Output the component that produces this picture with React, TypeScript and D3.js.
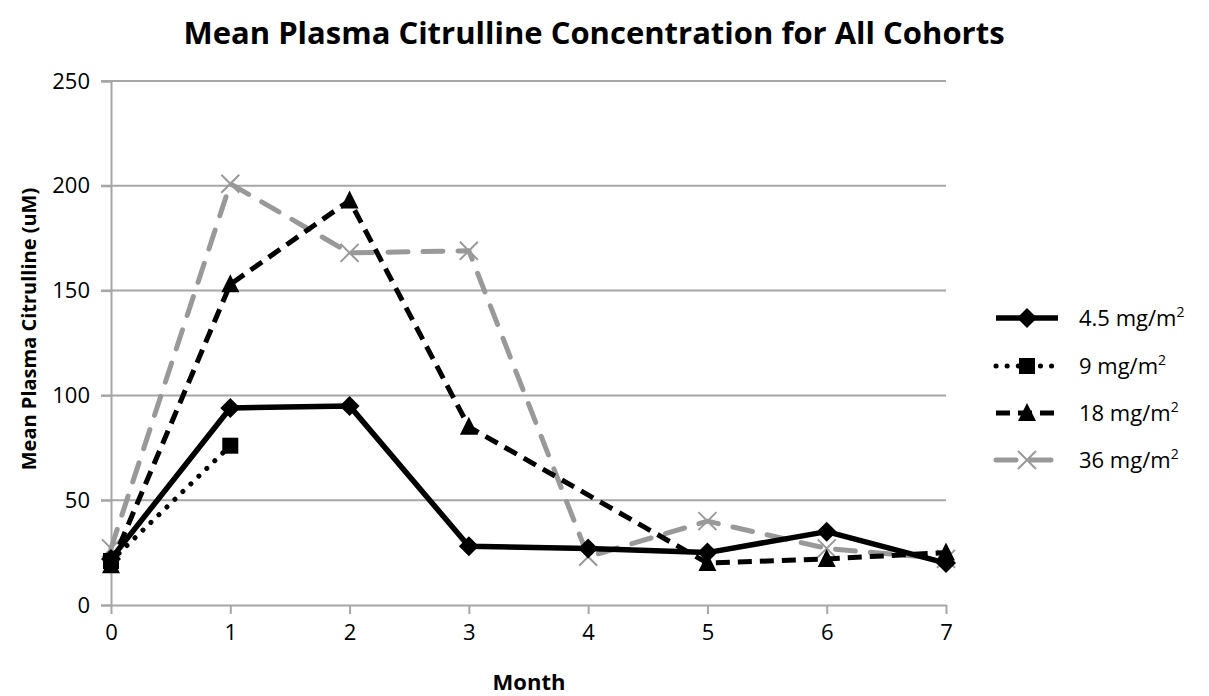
import React, { useEffect, useRef } from "react";
import * as d3 from "d3";

// months on x axis, values in uM; null = no measurement
const months = [0, 1, 2, 3, 4, 5, 6, 7];
const yTicks = [0, 50, 100, 150, 200, 250];
const cohort45 = [22, 94, 95, 28, 27, 25, 35, 20];
const cohort9 = [21, 76, null, null, null, null, null, null];
const cohort18 = [19, 153, 193, 85, null, 20, 22, 25];
const cohort36 = [27, 201, 168, 169, 23, 40, 27, 22];
const seriesNames = ["4.5 mg/m", "9 mg/m", "18 mg/m", "36 mg/m"];

const W = 1209, H = 696;
const font = "'Open Sans', sans-serif";

export default function App() {
  const ref = useRef<SVGSVGElement>(null);

  useEffect(() => {
    const svg = d3.select(ref.current);
    svg.selectAll("*").remove();

    const x = d3.scaleLinear().domain([0, 7]).range([111, 946]);
    const y = d3.scaleLinear().domain([0, 250]).range([605, 81]);
    const grid = "#a6a6a6";

    // title
    svg.append("text")
      .attr("x", 594).attr("y", 44)
      .attr("text-anchor", "middle")
      .style("font-family", font).style("font-weight", "bold").style("font-size", "31px")
      .text("Mean Plasma Citrulline Concentration for All Cohorts");

    // gridlines
    svg.append("g").selectAll("line")
      .data(yTicks.filter(t => t > 0))
      .enter().append("line")
      .attr("x1", 101).attr("x2", 946)
      .attr("y1", d => y(d)).attr("y2", d => y(d))
      .attr("stroke", grid).attr("stroke-width", 2);

    // y axis
    const yAxis = svg.append("g").attr("transform", "translate(111,0)")
      .call(d3.axisLeft(y).tickValues(yTicks).tickSize(10).tickPadding(11));
    yAxis.select(".domain").attr("stroke", grid).attr("stroke-width", 2);
    yAxis.selectAll(".tick line").attr("stroke", grid).attr("stroke-width", 2);
    yAxis.selectAll(".tick text").style("font-family", font).style("font-size", "22px").attr("fill", "#000");

    // x axis
    const xAxis = svg.append("g").attr("transform", "translate(0,605)")
      .call(d3.axisBottom(x).tickValues(months).tickFormat(d3.format("d")).tickSize(9).tickPadding(10).tickSizeOuter(0));
    xAxis.select(".domain").attr("stroke", grid).attr("stroke-width", 2);
    xAxis.selectAll(".tick line").attr("stroke", grid).attr("stroke-width", 2);
    xAxis.selectAll(".tick text").style("font-family", font).style("font-size", "22px").attr("fill", "#000");

    // axis titles
    svg.append("text")
      .attr("transform", "translate(36,329) rotate(-90)")
      .attr("text-anchor", "middle")
      .style("font-family", font).style("font-weight", "bold").style("font-size", "20px")
      .text("Mean Plasma Citrulline (uM)");
    svg.append("text")
      .attr("x", 529).attr("y", 690)
      .attr("text-anchor", "middle")
      .style("font-family", font).style("font-weight", "bold").style("font-size", "22px")
      .text("Month");

    const series = [
      { vals: cohort45, color: "#000", dash: null, cap: "butt", width: 5.5, marker: "diamond" },
      { vals: cohort9, color: "#000", dash: "0.1 11", cap: "round", width: 5, marker: "square" },
      { vals: cohort18, color: "#000", dash: "14 8", cap: "butt", width: 5, marker: "triangle" },
      { vals: cohort36, color: "#999", dash: "20 15", cap: "round", width: 5, marker: "x" },
    ];

    const line = d3.line<[number, number]>().x(d => x(d[0])).y(d => y(d[1]));

    const drawMarker = (g: any, kind: string, cx: number, cy: number, color: string) => {
      if (kind === "diamond") {
        g.append("path").attr("d", `M${cx},${cy - 10}L${cx + 10},${cy}L${cx},${cy + 10}L${cx - 10},${cy}Z`).attr("fill", color);
      } else if (kind === "square") {
        g.append("rect").attr("x", cx - 8).attr("y", cy - 8).attr("width", 16).attr("height", 16).attr("fill", color);
      } else if (kind === "triangle") {
        g.append("path").attr("d", `M${cx},${cy - 10}L${cx + 9},${cy + 8}L${cx - 9},${cy + 8}Z`).attr("fill", color);
      } else {
        g.append("path").attr("d", `M${cx - 9},${cy - 9}L${cx + 9},${cy + 9}M${cx - 9},${cy + 9}L${cx + 9},${cy - 9}`)
          .attr("stroke", color).attr("stroke-width", 2).attr("fill", "none");
      }
    };

    // 36 drawn first, 4.5 last (on top)
    [3, 2, 1, 0].forEach(i => {
      const s = series[i];
      const pts = months.map((m, j) => [m, s.vals[j]] as [number, any]).filter(p => p[1] != null) as [number, number][];
      const g = svg.append("g");
      g.append("path")
        .attr("d", line(pts))
        .attr("fill", "none")
        .attr("stroke", s.color)
        .attr("stroke-width", s.width)
        .attr("stroke-linecap", s.cap)
        .attr("stroke-linejoin", "round")
        .attr("stroke-dasharray", s.dash);
      pts.forEach(p => drawMarker(g, s.marker, x(p[0]), y(p[1]), s.color));
    });

    // legend
    const legendY = [318, 366, 413, 460];
    series.forEach((s, i) => {
      const g = svg.append("g");
      const ly = legendY[i];
      g.append("line")
        .attr("x1", 996).attr("x2", 1058).attr("y1", ly).attr("y2", ly)
        .attr("stroke", s.color).attr("stroke-width", s.width)
        .attr("stroke-linecap", s.cap)
        .attr("stroke-dasharray", s.dash);
      drawMarker(g, s.marker, 1027, ly, s.color);
      const t = g.append("text")
        .attr("x", 1079).attr("y", ly + 8)
        .style("font-family", font).style("font-size", "22px");
      t.append("tspan").text(seriesNames[i]);
      t.append("tspan").attr("dy", -9).style("font-size", "14px").text("2");
    });
  }, []);

  return (
    <svg ref={ref} width={W} height={H}
      style={{ position: "absolute", left: 0, top: 0, background: "#fff" }} />
  );
}
